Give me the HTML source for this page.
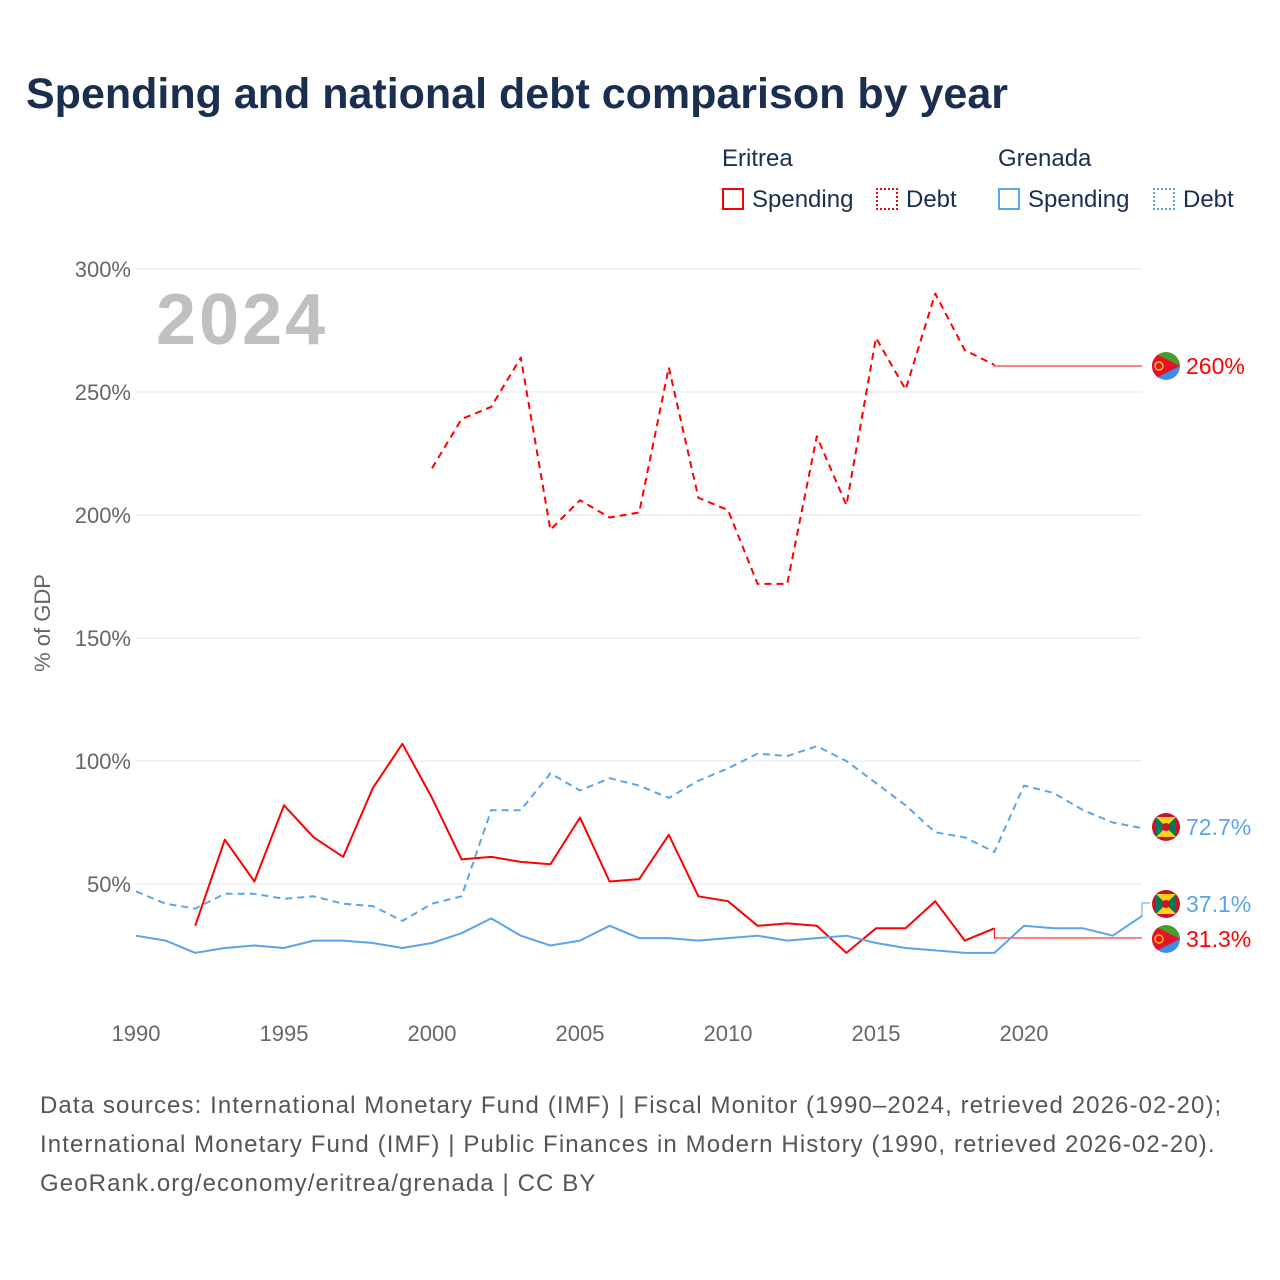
<!DOCTYPE html>
<html><head><meta charset="utf-8">
<style>
body{margin:0;background:#fff;font-family:"Liberation Sans",sans-serif;}
#wrap{position:relative;width:1280px;height:1280px;overflow:hidden;}
.t{position:absolute;white-space:nowrap;}
</style></head><body>
<div id="wrap">
<div class="t" style="left:26px;top:70px;font-size:43px;font-weight:bold;color:#1a2e4f;">Spending and national debt comparison by year</div>
<div class="t" style="left:722px;top:145px;font-size:24px;color:#1a2e4f;">Eritrea</div>
<div class="t" style="left:998px;top:145px;font-size:24px;color:#1a2e4f;">Grenada</div>
<div class="t" style="left:722px;top:186px;font-size:24px;color:#1a2e4f;"><span style="display:inline-block;width:22px;height:22px;border:2px solid #f00;box-sizing:border-box;vertical-align:-3px;margin-right:8px"></span>Spending</div>
<div class="t" style="left:876px;top:186px;font-size:24px;color:#1a2e4f;"><span style="display:inline-block;width:22px;height:22px;border:2px dotted #f00;box-sizing:border-box;vertical-align:-3px;margin-right:8px"></span>Debt</div>
<div class="t" style="left:998px;top:186px;font-size:24px;color:#1a2e4f;"><span style="display:inline-block;width:22px;height:22px;border:2px solid #5aa5ea;box-sizing:border-box;vertical-align:-3px;margin-right:8px"></span>Spending</div>
<div class="t" style="left:1153px;top:186px;font-size:24px;color:#1a2e4f;"><span style="display:inline-block;width:22px;height:22px;border:2px dotted #5aa5ea;box-sizing:border-box;vertical-align:-3px;margin-right:8px"></span>Debt</div>
<svg id="chart" width="1280" height="1280" style="position:absolute;left:0;top:0"></svg>
<div class="t" style="left:40px;top:1086px;font-size:24px;line-height:39px;letter-spacing:1.1px;color:#555;">Data sources: International Monetary Fund (IMF) | Fiscal Monitor (1990–2024, retrieved 2026-02-20);<br>International Monetary Fund (IMF) | Public Finances in Modern History (1990, retrieved 2026-02-20).<br>GeoRank.org/economy/eritrea/grenada | CC BY</div>
</div>
<script>
const years = [1990,1991,1992,1993,1994,1995,1996,1997,1998,1999,2000,2001,2002,2003,2004,2005,2006,2007,2008,2009,2010,2011,2012,2013,2014,2015,2016,2017,2018,2019,2020,2021,2022,2023,2024];
const eriSpending = [null,null,33,68,51,82,69,61,89,107,85,60,61,59,58,77,51,52,70,45,43,33,34,33,22,32,32,43,27,32,null,null,null,null,null];
const eriDebt = [null,null,null,null,null,null,null,null,null,null,219,239,244,264,194,206,199,201,260,207,202,172,172,232,204,272,251,290,267,261,null,null,null,null,null];
const grdSpending = [29,27,22,24,25,24,27,27,26,24,26,30,36,29,25,27,33,28,28,27,28,29,27,28,29,26,24,23,22,22,33,32,32,29,37.1];
const grdDebt = [47,42,40,46,46,44,45,42,41,35,42,45,80,80,95,88,93,90,85,92,97,103,102,106,100,91,82,71,69,63,90,87,80,75,72.7];
const yTicks = [50,100,150,200,250,300];
const xTicks = [1990,1995,2000,2005,2010,2015,2020];

const NS="http://www.w3.org/2000/svg";
const svg=document.getElementById('chart');
const xs=y=>136+(y-1990)*29.6;
const ys=v=>1007-v*2.46;
function mk(tag,attrs,parent){const e=document.createElementNS(NS,tag);for(const k in attrs)e.setAttribute(k,attrs[k]);(parent||svg).appendChild(e);return e;}

yTicks.forEach(v=>{
  const l=mk('line',{x1:136,x2:1142,y1:ys(v),y2:ys(v),stroke:'#e6e6e6','stroke-width':1});
  
  
  const t=mk('text',{x:131,y:ys(v)+8,'text-anchor':'end','font-size':22,fill:'#666','font-family':'Liberation Sans, sans-serif'});
  t.textContent=v+'%';
  
  
});
xTicks.forEach(y=>{
  const t=mk('text',{x:xs(y),y:1041,'text-anchor':'middle','font-size':22,fill:'#666','font-family':'Liberation Sans, sans-serif'});
  t.textContent=y;
  
  
});
const yt=mk('text',{x:0,y:0,transform:'translate(50,623) rotate(-90)','text-anchor':'middle','font-size':22,fill:'#666','font-family':'Liberation Sans, sans-serif'});
yt.textContent='% of GDP';


const yr=mk('text',{x:156,y:344,'font-size':72,'font-weight':'bold','letter-spacing':3,fill:'#c0c0c0','font-family':'Liberation Sans, sans-serif'});
yr.textContent='2024';



function series(vals,color,dash,name){
  let d='';let pen=false;
  vals.forEach((v,i)=>{if(v==null){pen=false;return;}d+=(pen?'L':'M')+xs(years[i]).toFixed(1)+' '+ys(v).toFixed(1)+' ';pen=true;});
  const p=mk('path',{d:d,fill:'none',stroke:color,'stroke-width':2,'stroke-dasharray':dash||'none','stroke-linejoin':'round'});
  
  
}
function lastIdx(a){for(let i=a.length-1;i>=0;i--)if(a[i]!=null)return i;}
function connector(vals,color,labelY,name){
  const i=lastIdx(vals);const x0=xs(years[i]),y0=ys(vals[i]);
  const p=mk('path',{d:`M${x0} ${y0} L${x0} ${labelY} L1142 ${labelY}`,fill:'none',stroke:color,'stroke-width':1});
  
  
}
connector(eriDebt,'#f00',366,'eritrea-debt-connector');
connector(eriSpending,'#f00',938,'eritrea-spending-connector');
const gi=lastIdx(grdSpending);
const gc=mk('path',{d:`M1142 ${ys(grdSpending[gi])} L1142 903 L1150 903`,fill:'none',stroke:'#5aa5ea','stroke-width':1});



series(eriDebt,'#f00','7 5','eritrea-debt-line');
series(grdDebt,'#5aa5ea','7 5','grenada-debt-line');
series(eriSpending,'#f00',null,'eritrea-spending-line');
series(grdSpending,'#5aa5ea',null,'grenada-spending-line');

function flag(cy,type,name){
  const g=mk('g',{});
  
  
  const cx=1166;
  const cp='cp'+cy;
  const c=mk('clipPath',{id:cp},g);mk('circle',{cx:cx,cy:cy,r:14},c);
  const h=mk('g',{'clip-path':`url(#${cp})`},g);
  if(type==='eri'){
    mk('rect',{x:cx-14,y:cy-14,width:28,height:14,fill:'#4a9a2c'},h);
    mk('rect',{x:cx-14,y:cy,width:28,height:14,fill:'#3a8ee6'},h);
    mk('polygon',{points:`${cx-14},${cy-14} ${cx+14},${cy} ${cx-14},${cy+14}`,fill:'#e8112d'},h);
    mk('circle',{cx:cx-7,cy:cy,r:4,fill:'none',stroke:'#f8c300','stroke-width':1.5},h);
  }else{
    mk('rect',{x:cx-14,y:cy-14,width:28,height:28,fill:'#ce1126'},h);
    mk('polygon',{points:`${cx-10},${cy-10} ${cx+10},${cy-10} ${cx},${cy}`,fill:'#fcd116'},h);
    mk('polygon',{points:`${cx-10},${cy+10} ${cx+10},${cy+10} ${cx},${cy}`,fill:'#fcd116'},h);
    mk('polygon',{points:`${cx-10},${cy-10} ${cx-10},${cy+10} ${cx},${cy}`,fill:'#007a5e'},h);
    mk('polygon',{points:`${cx+10},${cy-10} ${cx+10},${cy+10} ${cx},${cy}`,fill:'#007a5e'},h);
    mk('circle',{cx:cx,cy:cy,r:4,fill:'#ce1126'},h);
  }
}
function label(cy,text,color,name){
  const t=mk('text',{x:1186,y:cy+8,'font-size':23,fill:color,'font-family':'Liberation Sans, sans-serif'});
  t.textContent=text;
  
  
}
flag(366,'eri','eritrea-debt-flag');label(366,'260%','#f00','eritrea-debt-end-label');
flag(827,'grd','grenada-debt-flag');label(827,'72.7%','#5aa5ea','grenada-debt-end-label');
flag(904,'grd','grenada-spending-flag');label(904,'37.1%','#5aa5ea','grenada-spending-end-label');
flag(939,'eri','eritrea-spending-flag');label(939,'31.3%','#f00','eritrea-spending-end-label');
</script>
</body></html>
